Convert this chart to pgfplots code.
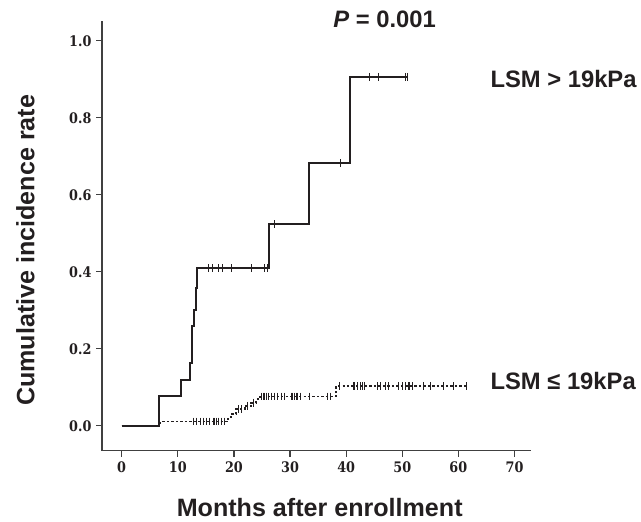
\documentclass[border=0pt]{standalone}
\usepackage{pgfplots}
\pgfplotsset{compat=1.18}
\usepackage{fontspec}
\setmainfont{Liberation Sans}
\newfontfamily\tickfont[FakeStretch=0.88]{DejaVu Serif}
\definecolor{ink}{HTML}{231F20}
\begin{document}
\begin{tikzpicture}
\begin{axis}[
  scale only axis, width=325pt, height=325pt,
  xmin=-3.5, xmax=73, ymin=-0.065, ymax=1.05,
  axis x line*=bottom, axis y line*=left,
  axis line style={black!75, line width=1pt},
  xtick={0,10,...,70}, ytick={0,0.2,0.4,0.6,0.8,1.0},
  yticklabel style={/pgf/number format/.cd, fixed, fixed zerofill, precision=1},
  tick align=outside, major tick length=4.5pt,
  tick style={black!75, line width=0.9pt},
  /pgf/number format/assume math mode=true,
  tick label style={font=\tickfont\bfseries\fontsize{11}{12}\selectfont, text=ink},
  xlabel={Months after enrollment},
  ylabel={Cumulative incidence rate},
  label style={font=\bfseries\fontsize{19}{21}\selectfont, text=ink},
  xlabel style={at={(axis description cs:0.507,0)}, anchor=center, yshift=-43pt},
  ylabel style={at={(axis description cs:0,0.467)}, anchor=center, yshift=58pt},
  clip=false,
]
% LSM > 19kPa
\addplot[const plot, ink, line width=1.5pt] coordinates {
(0,0) (6.6,0.077) (10.6,0.12) (12.2,0.163) (12.5,0.258) (12.9,0.301) (13.2,0.357) (13.4,0.409) (26.2,0.524) (33.3,0.682) (40.6,0.906) (51,0.906)};
\addplot[only marks, mark=|, mark size=3pt, ink, mark options={line width=0.8pt}] coordinates {
(15.5,0.409) (16.1,0.409) (17.2,0.409) (17.9,0.409) (19.6,0.409) (23.2,0.409) (25.5,0.409) (26.0,0.409)
(27.3,0.524) (39.0,0.682) (44.1,0.906) (45.8,0.906) (50.6,0.906) (51,0.906)};
% LSM <= 19kPa
\addplot[const plot, ink, line width=1.4pt, dash pattern=on 1.8pt off 1.6pt] coordinates {
(0,0) (6.9,0.011) (19.0,0.022) (19.5,0.030) (20.4,0.043) (21.9,0.052) (23.1,0.060) (24.0,0.069) (24.6,0.076) (38.2,0.103) (61.5,0.103)};
\addplot[only marks, mark=|, mark size=3pt, ink, mark options={line width=0.8pt}] coordinates {
(12.8,0.011) (13.4,0.011) (14.0,0.011) (14.5,0.011) (15.1,0.011) (15.7,0.011) (16.3,0.011) (16.6,0.011) (16.9,0.011) (17.2,0.011) (17.8,0.011) (18.4,0.011)
(20.8,0.043) (21.3,0.043) (22.5,0.052) (23.5,0.060)
(24.9,0.076) (25.2,0.076) (25.5,0.076) (25.8,0.076) (26.1,0.076) (26.7,0.076) (27.3,0.076) (27.8,0.076) (28.4,0.076) (29.0,0.076) (30.2,0.076) (30.5,0.076) (30.8,0.076) (31.1,0.076) (31.4,0.076) (31.9,0.076) (33.4,0.076) (36.6,0.076) (37.2,0.076)
(38.8,0.103) (41.4,0.103) (42.0,0.103) (42.5,0.103) (42.9,0.103) (43.2,0.103) (45.6,0.103) (46.2,0.103) (47.0,0.103) (47.6,0.103) (49.4,0.103) (50.0,0.103) (50.6,0.103) (51.2,0.103) (51.8,0.103) (53.8,0.103) (55.0,0.103) (57.4,0.103) (59.2,0.103) (61.5,0.103)};
\node[anchor=west, font=\bfseries\fontsize{18}{20}\selectfont, text=ink] at (axis cs:64.9,0.90) {LSM > 19kPa};
\node[anchor=west, font=\bfseries\fontsize{18}{20}\selectfont, text=ink] at (axis cs:64.9,0.115) {LSM ≤ 19kPa};
\node[anchor=center, font=\bfseries\fontsize{18}{20}\selectfont, text=ink] at (axis cs:46.85,1.055) {\textit{P} = 0.001};
\end{axis}
\path (-77.25pt,-52.5pt) rectangle (403.5pt,341.25pt);
\end{tikzpicture}
\end{document}
